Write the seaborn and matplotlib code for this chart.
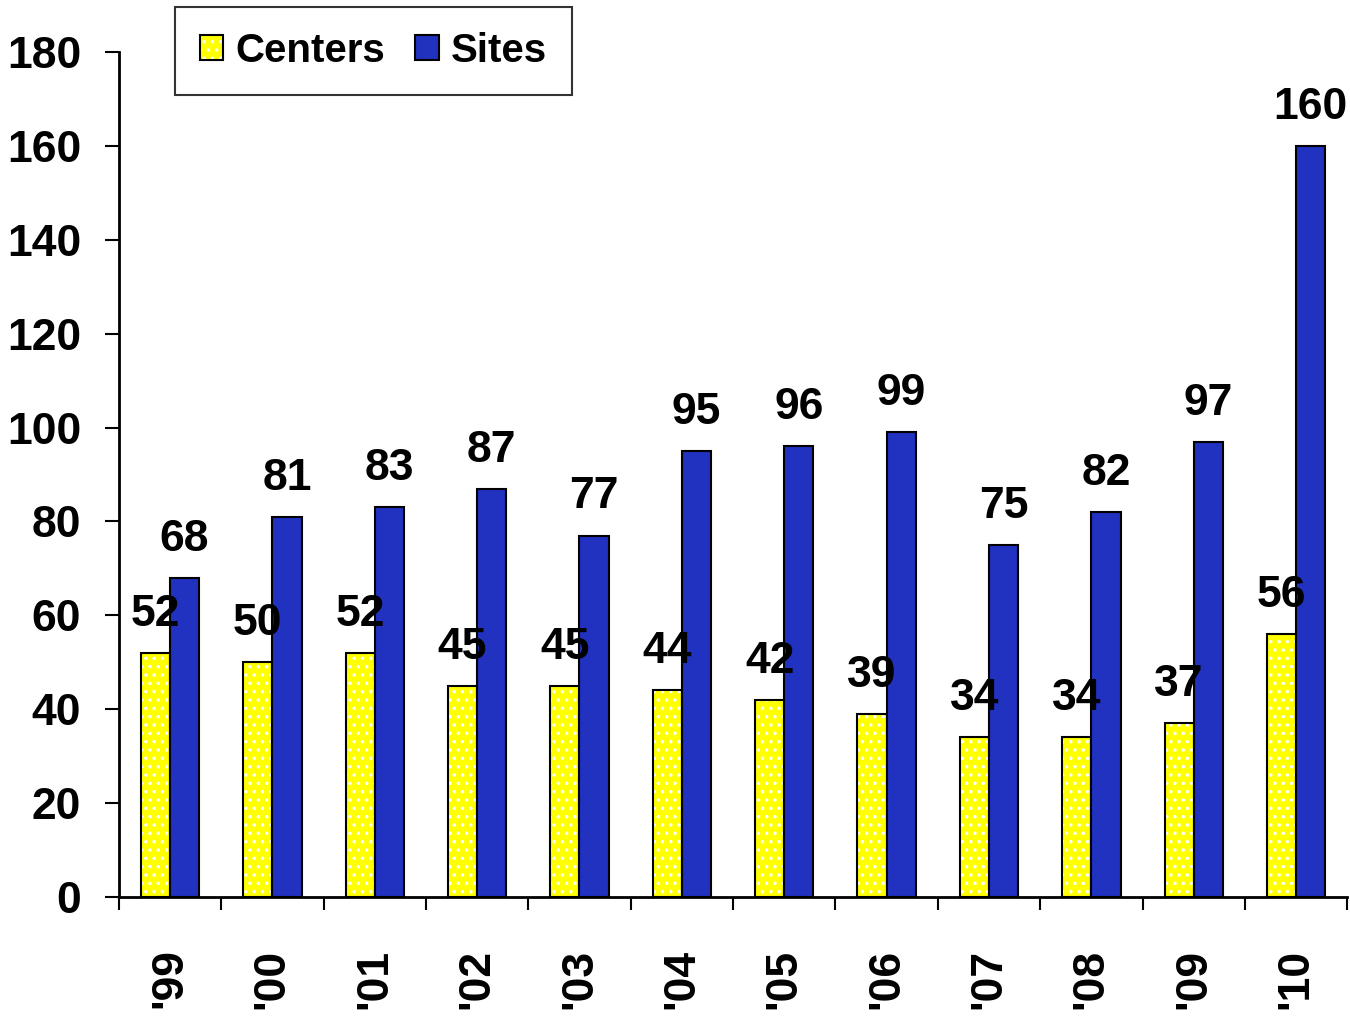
import matplotlib
matplotlib.use("Agg")
import matplotlib.pyplot as plt
from matplotlib.patches import Patch
import seaborn as sns
import pandas as pd
import numpy as np

years = ["'99", "'00", "'01", "'02", "'03", "'04", "'05", "'06", "'07", "'08", "'09", "'10"]
centers = [52, 50, 52, 45, 45, 44, 42, 39, 34, 34, 37, 56]
sites = [68, 81, 83, 87, 77, 95, 96, 99, 75, 82, 97, 160]
series = ["Centers", "Sites"]
colors = ["#FFFF00", "#2131C0"]
y_ticks = [0, 20, 40, 60, 80, 100, 120, 140, 160, 180]

sns.set_theme(style="white")
FAM = ['Liberation Sans', 'DejaVu Sans']
plt.rcParams['font.family'] = FAM
plt.rcParams['font.weight'] = 'bold'
plt.rcParams['hatch.linewidth'] = 1.3
for k in ['text.color', 'axes.labelcolor', 'xtick.color', 'ytick.color']:
    plt.rcParams[k] = 'black'

df = pd.DataFrame({
    "year": years * 2,
    "value": centers + sites,
    "series": [series[0]] * len(years) + [series[1]] * len(years),
})

fig = plt.figure(figsize=(13.5, 10.16), dpi=100)
ax = fig.add_axes([0.088, 0.117, 0.91, 0.832])

sns.barplot(data=df, x="year", y="value", hue="series", order=years,
            hue_order=series, palette=colors, width=0.57, dodge=True,
            edgecolor="black", linewidth=1.5, saturation=1, ax=ax, legend=False)

# white dotted pattern on the yellow bars, with black outline
for p in ax.containers[0]:
    p.set_hatch('..')
    p.set_edgecolor('black')
    p._hatch_color = (1, 1, 1, 1)

for c in ax.containers:
    ax.bar_label(c, fontsize=32, fontweight='bold', padding=13, family=FAM, color='black')

ax.set_ylim(0, 180)
ax.set_xlim(-0.5, len(years) - 0.5)
ax.set_yticks(y_ticks)
ax.set_xlabel("")
ax.set_ylabel("")
for s in ["top", "right"]:
    ax.spines[s].set_visible(False)
for s in ["left", "bottom"]:
    ax.spines[s].set_color("black")
    ax.spines[s].set_linewidth(2)

ax.tick_params(axis='y', which='major', length=10, width=1.5, color='black',
               labelsize=32, pad=17, left=True, labelcolor='black')
ax.tick_params(axis='x', which='major', length=0, labelsize=32, pad=37, labelcolor='black')
ax.set_xticks(np.arange(len(years)))
ax.set_xticklabels(years, rotation=90, fontweight='bold')
ax.set_xticks(np.arange(len(years) + 1) - 0.5, minor=True)
ax.tick_params(axis='x', which='minor', length=9, width=1.5, color='black', bottom=True)
for lbl in ax.get_yticklabels():
    lbl.set_fontweight('bold')

h0 = Patch(facecolor=colors[0], edgecolor='black', linewidth=1.5, hatch='..')
h0._hatch_color = (1, 1, 1, 1)
h1 = Patch(facecolor=colors[1], edgecolor='black', linewidth=1.5)
leg = fig.legend([h0, h1], series, loc='upper left', bbox_to_anchor=(0.1296, 0.993),
                 borderaxespad=0, ncol=2, frameon=True, fancybox=False,
                 handlelength=0.58, handleheight=0.58, handletextpad=0.3,
                 columnspacing=0.75, borderpad=0.62,
                 prop={'weight': 'bold', 'size': 29, 'family': FAM})
leg.get_frame().set_edgecolor('black')
leg.get_frame().set_linewidth(1.5)
for t in leg.get_texts():
    t.set_color('black')
for h in leg.legend_handles[:1]:
    h._hatch_color = (1, 1, 1, 1)

fig.savefig("out.png", dpi=100)
